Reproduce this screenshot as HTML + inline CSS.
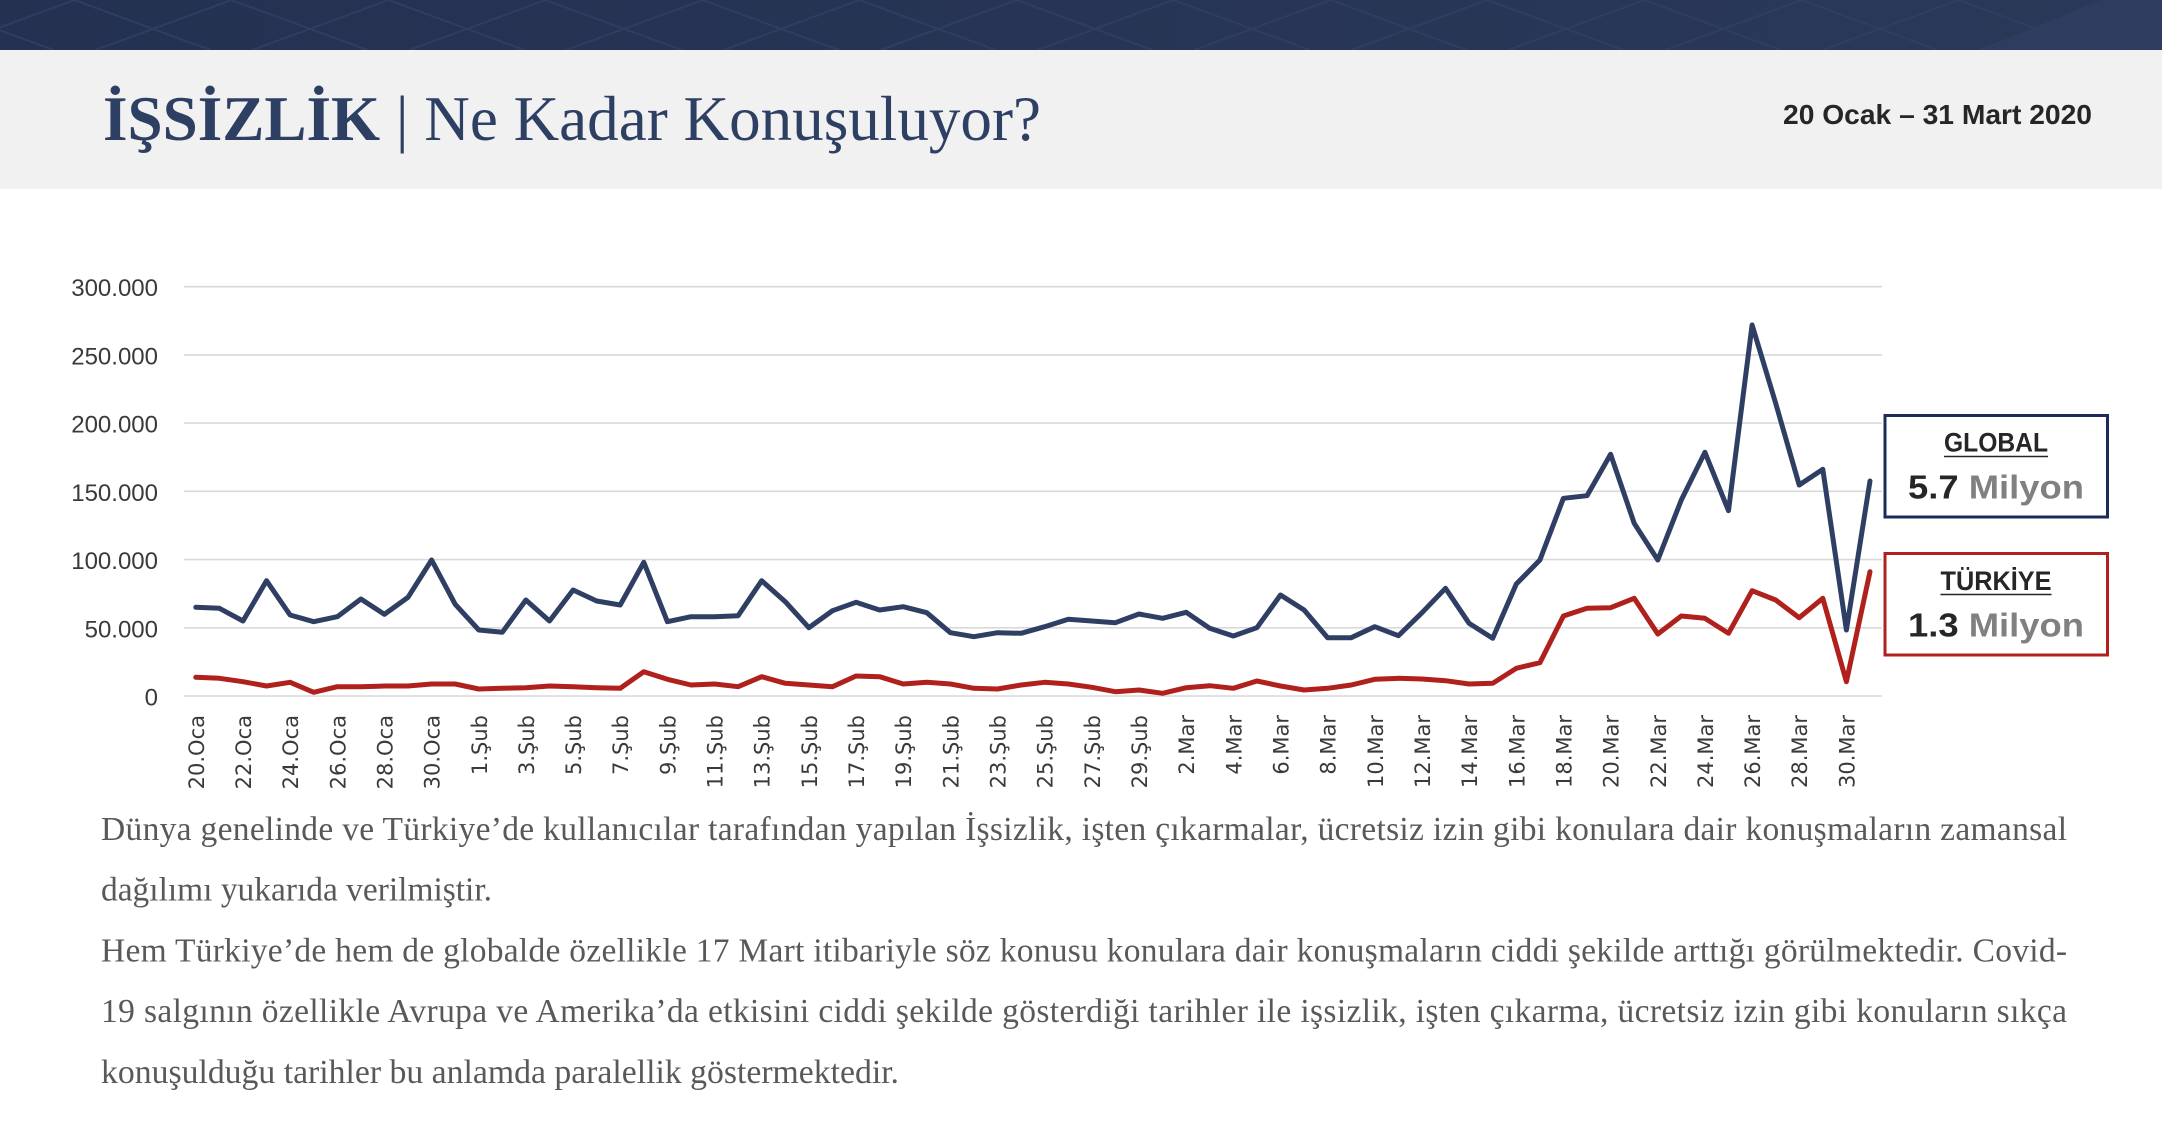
<!DOCTYPE html>
<html lang="tr">
<head>
<meta charset="utf-8">
<style>
  html,body{margin:0;padding:0;background:#ffffff;}
  body{width:2162px;height:1148px;overflow:hidden;position:relative;}
  svg{position:absolute;left:0;top:0;display:block;}
</style>
</head>
<body>
<svg width="2162" height="1148" viewBox="0 0 2162 1148" xmlns="http://www.w3.org/2000/svg">
  <defs>
    <linearGradient id="barg" x1="0" y1="0" x2="1" y2="0">
      <stop offset="0" stop-color="#243151"/>
      <stop offset="1" stop-color="#2a3859"/>
    </linearGradient>
    <clipPath id="barclip"><rect x="0" y="0" width="2162" height="50"/></clipPath>
  </defs>

  <!-- top bar -->
  <rect x="0" y="0" width="2162" height="50" fill="url(#barg)"/>
  <polygon points="1980,50 2100,0 2162,0 2162,50" fill="#2d3c5f"/>
  <g clip-path="url(#barclip)" stroke="#2f3d5f" stroke-width="2" fill="none">
    <line x1="-82.5" y1="0" x2="53.5" y2="50"/><line x1="74.5" y1="0" x2="210.5" y2="50"/>
    <line x1="231.5" y1="0" x2="367.5" y2="50"/><line x1="388.5" y1="0" x2="524.5" y2="50"/>
    <line x1="545.5" y1="0" x2="681.5" y2="50"/><line x1="702.5" y1="0" x2="838.5" y2="50"/>
    <line x1="859.5" y1="0" x2="995.5" y2="50"/><line x1="1016.5" y1="0" x2="1152.5" y2="50"/>
    <line x1="1173.5" y1="0" x2="1309.5" y2="50"/><line x1="1330.5" y1="0" x2="1466.5" y2="50"/>
    <line x1="1487.5" y1="0" x2="1623.5" y2="50"/><line x1="1644.5" y1="0" x2="1780.5" y2="50"/>
    <line x1="1801.5" y1="0" x2="1937.5" y2="50"/><line x1="1958.5" y1="0" x2="2094.5" y2="50"/>
    <line x1="2115.5" y1="0" x2="2251.5" y2="50"/>
    <line x1="74.5" y1="0" x2="-61.5" y2="50"/><line x1="231.5" y1="0" x2="95.5" y2="50"/>
    <line x1="388.5" y1="0" x2="252.5" y2="50"/><line x1="545.5" y1="0" x2="409.5" y2="50"/>
    <line x1="702.5" y1="0" x2="566.5" y2="50"/><line x1="859.5" y1="0" x2="723.5" y2="50"/>
    <line x1="1016.5" y1="0" x2="880.5" y2="50"/><line x1="1173.5" y1="0" x2="1037.5" y2="50"/>
    <line x1="1330.5" y1="0" x2="1194.5" y2="50"/><line x1="1487.5" y1="0" x2="1351.5" y2="50"/>
    <line x1="1644.5" y1="0" x2="1508.5" y2="50"/><line x1="1801.5" y1="0" x2="1665.5" y2="50"/>
    <line x1="1958.5" y1="0" x2="1822.5" y2="50"/><line x1="2115.5" y1="0" x2="1979.5" y2="50"/>
    <line x1="2272.5" y1="0" x2="2136.5" y2="50"/>
  </g>

  <!-- header -->
  <rect x="0" y="50" width="2162" height="139" fill="#f1f1f1"/>
  <text x="103" y="140" font-family="'Liberation Serif', 'Noto Serif CJK SC', serif" font-size="64" fill="#2e3f64" textLength="938" lengthAdjust="spacingAndGlyphs"><tspan font-weight="bold">İŞSİZLİK</tspan> | Ne Kadar Konuşuluyor?</text>
  <text x="2092" y="124" text-anchor="end" font-family="'Liberation Sans', sans-serif" font-weight="bold" font-size="28" fill="#262626" textLength="309" lengthAdjust="spacingAndGlyphs">20 Ocak – 31 Mart 2020</text>

  <!-- gridlines -->
  <g stroke="#d9d9d9" stroke-width="1.6">
    <line x1="184" y1="286.7" x2="1882" y2="286.7"/>
    <line x1="184" y1="354.9" x2="1882" y2="354.9"/>
    <line x1="184" y1="423.1" x2="1882" y2="423.1"/>
    <line x1="184" y1="491.3" x2="1882" y2="491.3"/>
    <line x1="184" y1="559.6" x2="1882" y2="559.6"/>
    <line x1="184" y1="627.8" x2="1882" y2="627.8"/>
    <line x1="184" y1="696" x2="1882" y2="696"/>
  </g>

  <!-- y labels -->
  <g font-family="'Liberation Sans', sans-serif" font-size="24" fill="#3a3a3a" text-anchor="end">
    <text x="158" y="296.2">300.000</text>
    <text x="158" y="364.4">250.000</text>
    <text x="158" y="432.6">200.000</text>
    <text x="158" y="500.8">150.000</text>
    <text x="158" y="569.1">100.000</text>
    <text x="158" y="637.3">50.000</text>
    <text x="158" y="705.5">0</text>
  </g>

  <!-- x labels -->
  <g font-family="'DejaVu Sans', 'Liberation Sans', sans-serif" font-size="21" fill="#3a3a3a" text-anchor="end">
    <text transform="translate(203.8,715) rotate(-90)">20.Oca</text>
    <text transform="translate(251.0,715) rotate(-90)">22.Oca</text>
    <text transform="translate(298.1,715) rotate(-90)">24.Oca</text>
    <text transform="translate(345.3,715) rotate(-90)">26.Oca</text>
    <text transform="translate(392.4,715) rotate(-90)">28.Oca</text>
    <text transform="translate(439.6,715) rotate(-90)">30.Oca</text>
    <text transform="translate(486.8,715) rotate(-90)">1.Şub</text>
    <text transform="translate(533.9,715) rotate(-90)">3.Şub</text>
    <text transform="translate(581.1,715) rotate(-90)">5.Şub</text>
    <text transform="translate(628.2,715) rotate(-90)">7.Şub</text>
    <text transform="translate(675.4,715) rotate(-90)">9.Şub</text>
    <text transform="translate(722.6,715) rotate(-90)">11.Şub</text>
    <text transform="translate(769.7,715) rotate(-90)">13.Şub</text>
    <text transform="translate(816.9,715) rotate(-90)">15.Şub</text>
    <text transform="translate(864.0,715) rotate(-90)">17.Şub</text>
    <text transform="translate(911.2,715) rotate(-90)">19.Şub</text>
    <text transform="translate(958.4,715) rotate(-90)">21.Şub</text>
    <text transform="translate(1005.5,715) rotate(-90)">23.Şub</text>
    <text transform="translate(1052.7,715) rotate(-90)">25.Şub</text>
    <text transform="translate(1099.8,715) rotate(-90)">27.Şub</text>
    <text transform="translate(1147.0,715) rotate(-90)">29.Şub</text>
    <text transform="translate(1194.2,715) rotate(-90)">2.Mar</text>
    <text transform="translate(1241.3,715) rotate(-90)">4.Mar</text>
    <text transform="translate(1288.5,715) rotate(-90)">6.Mar</text>
    <text transform="translate(1335.6,715) rotate(-90)">8.Mar</text>
    <text transform="translate(1382.8,715) rotate(-90)">10.Mar</text>
    <text transform="translate(1430.0,715) rotate(-90)">12.Mar</text>
    <text transform="translate(1477.1,715) rotate(-90)">14.Mar</text>
    <text transform="translate(1524.3,715) rotate(-90)">16.Mar</text>
    <text transform="translate(1571.4,715) rotate(-90)">18.Mar</text>
    <text transform="translate(1618.6,715) rotate(-90)">20.Mar</text>
    <text transform="translate(1665.8,715) rotate(-90)">22.Mar</text>
    <text transform="translate(1712.9,715) rotate(-90)">24.Mar</text>
    <text transform="translate(1760.1,715) rotate(-90)">26.Mar</text>
    <text transform="translate(1807.2,715) rotate(-90)">28.Mar</text>
    <text transform="translate(1854.4,715) rotate(-90)">30.Mar</text>
  </g>

  <!-- series -->
  <polyline fill="none" stroke="#2e3f63" stroke-width="5" stroke-linejoin="round" stroke-linecap="round"
    points="195.8,607.3 219.4,608.3 243.0,621.0 266.5,580.7 290.1,615.0 313.7,621.7 337.3,616.7 360.9,599.0 384.4,614.3 408.0,597.3 431.6,560.0 455.2,604.3 478.8,630.0 502.3,632.3 525.9,600.0 549.5,621.0 573.1,590.0 596.7,601.0 620.2,605.0 643.8,562.3 667.4,621.7 691.0,616.7 714.6,616.7 738.1,615.7 761.7,580.7 785.3,601.7 808.9,627.7 832.5,610.7 856.0,602.3 879.6,610.0 903.2,606.7 926.8,612.7 950.4,632.7 973.9,636.7 997.5,632.7 1021.1,633.3 1044.7,626.7 1068.3,619.3 1091.8,621.0 1115.4,622.7 1139.0,614.0 1162.6,618.3 1186.2,612.3 1209.7,628.3 1233.3,636.0 1256.9,627.7 1280.5,595.0 1304.1,610.0 1327.6,637.7 1351.2,637.7 1374.8,626.7 1398.4,635.7 1422.0,612.7 1445.5,588.3 1469.1,623.3 1492.7,638.3 1516.3,584.0 1539.9,560.0 1563.4,498.3 1587.0,495.7 1610.6,454.3 1634.2,523.3 1657.8,560.0 1681.3,500.0 1704.9,452.3 1728.5,510.7 1752.1,325.0 1775.7,403.3 1799.2,485.0 1822.8,469.3 1846.4,630.0 1870.0,481.0"/>
  <polyline fill="none" stroke="#b0201c" stroke-width="5" stroke-linejoin="round" stroke-linecap="round"
    points="195.8,677.3 219.4,678.3 243.0,681.7 266.5,686.0 290.1,682.3 313.7,692.3 337.3,686.7 360.9,686.7 384.4,686.0 408.0,686.0 431.6,684.0 455.2,684.0 478.8,689.0 502.3,688.3 525.9,687.7 549.5,686.0 573.1,686.7 596.7,687.7 620.2,688.3 643.8,671.7 667.4,679.3 691.0,685.0 714.6,684.0 738.1,686.7 761.7,676.7 785.3,683.3 808.9,685.0 832.5,686.7 856.0,676.0 879.6,676.7 903.2,684.0 926.8,682.3 950.4,684.0 973.9,688.3 997.5,689.0 1021.1,685.0 1044.7,682.3 1068.3,684.0 1091.8,687.3 1115.4,691.7 1139.0,690.0 1162.6,693.3 1186.2,687.7 1209.7,685.7 1233.3,688.3 1256.9,681.0 1280.5,686.0 1304.1,690.0 1327.6,688.3 1351.2,685.0 1374.8,679.3 1398.4,678.3 1422.0,679.0 1445.5,680.7 1469.1,684.0 1492.7,683.3 1516.3,668.3 1539.9,662.7 1563.4,616.0 1587.0,608.3 1610.6,607.7 1634.2,598.3 1657.8,634.0 1681.3,616.0 1704.9,618.3 1728.5,633.3 1752.1,590.7 1775.7,600.0 1799.2,617.7 1822.8,598.3 1846.4,681.7 1870.0,571.7"/>

  <!-- legend boxes -->
  <rect x="1885" y="415.5" width="222.5" height="101.5" fill="#ffffff" stroke="#1c2b5a" stroke-width="3"/>
  <text x="1996" y="451.7" text-anchor="middle" font-family="'Liberation Sans', sans-serif" font-weight="bold" font-size="27" fill="#262626" textLength="104" lengthAdjust="spacingAndGlyphs">GLOBAL</text>
  <line x1="1944" y1="456.5" x2="2048" y2="456.5" stroke="#262626" stroke-width="1.6"/>
  <text x="1996" y="498.3" text-anchor="middle" font-family="'Liberation Sans', sans-serif" font-weight="bold" font-size="33" textLength="176" lengthAdjust="spacingAndGlyphs"><tspan fill="#262626">5.7 </tspan><tspan fill="#808080">Milyon</tspan></text>

  <rect x="1885" y="553.5" width="222.5" height="101.5" fill="#ffffff" stroke="#b0201c" stroke-width="3"/>
  <text x="1996" y="590" text-anchor="middle" font-family="'Liberation Sans', sans-serif" font-weight="bold" font-size="27" fill="#262626" textLength="111" lengthAdjust="spacingAndGlyphs">TÜRKİYE</text>
  <line x1="1940.5" y1="594.5" x2="2051.5" y2="594.5" stroke="#262626" stroke-width="1.6"/>
  <text x="1996" y="636.7" text-anchor="middle" font-family="'Liberation Sans', sans-serif" font-weight="bold" font-size="33" textLength="176" lengthAdjust="spacingAndGlyphs"><tspan fill="#262626">1.3 </tspan><tspan fill="#808080">Milyon</tspan></text>

  <!-- body text -->
  <g font-family="'Liberation Serif', serif" font-size="33.5" fill="#595959">
    <text x="101" y="840" textLength="1966" lengthAdjust="spacing">Dünya genelinde ve Türkiye’de kullanıcılar tarafından yapılan İşsizlik, işten çıkarmalar, ücretsiz izin gibi konulara dair konuşmaların zamansal</text>
    <text x="101" y="900.5" textLength="391" lengthAdjust="spacingAndGlyphs">dağılımı yukarıda verilmiştir.</text>
    <text x="101" y="961.5" textLength="1966" lengthAdjust="spacing">Hem Türkiye’de hem de globalde özellikle 17 Mart itibariyle söz konusu konulara dair konuşmaların ciddi şekilde arttığı görülmektedir. Covid-</text>
    <text x="101" y="1022" textLength="1966" lengthAdjust="spacing">19 salgının özellikle Avrupa ve Amerika’da etkisini ciddi şekilde gösterdiği tarihler ile işsizlik, işten çıkarma, ücretsiz izin gibi konuların sıkça</text>
    <text x="101" y="1083" textLength="798" lengthAdjust="spacingAndGlyphs">konuşulduğu tarihler bu anlamda paralellik göstermektedir.</text>
  </g>
</svg>
</body>
</html>
